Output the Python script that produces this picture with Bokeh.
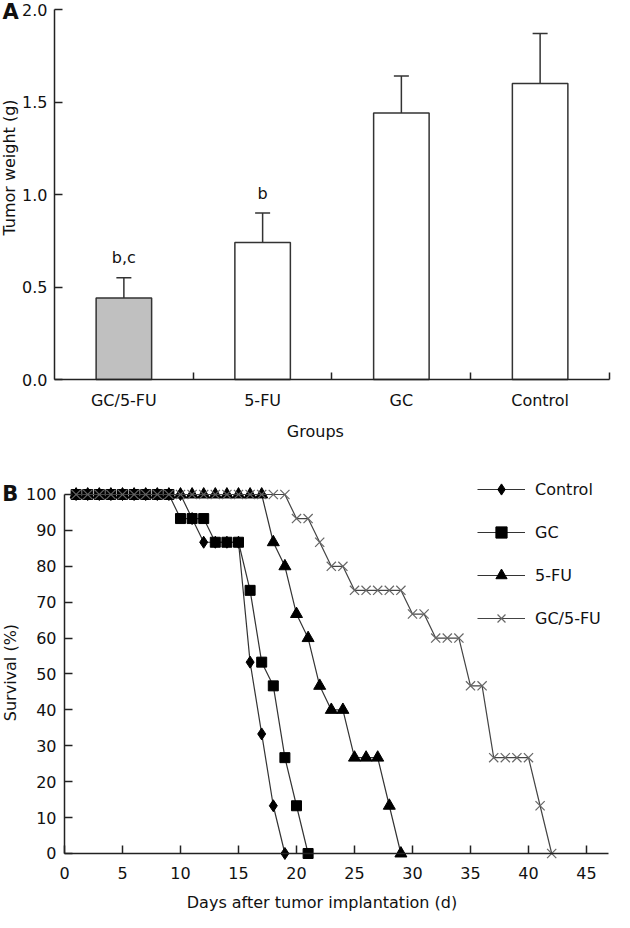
import math
from bokeh.plotting import figure
from bokeh.layouts import column
from bokeh.models import (ColumnDataSource, Whisker, TeeHead, LabelSet, Label,
                          FixedTicker, Range1d, Legend, LegendItem)
from bokeh.embed import file_html
from bokeh.resources import INLINE
from bokeh.core.properties import value

FONT = "DejaVu Sans"

# ---------------- Panel A data ----------------
groups = ["GC/5-FU", "5-FU", "GC", "Control"]
weights = [0.44, 0.74, 1.44, 1.60]
weight_errs = [0.11, 0.16, 0.20, 0.27]
sig_labels = ["b,c", "b", "", ""]
bar_colors = ["#c0c0c0", "#ffffff", "#ffffff", "#ffffff"]
weight_ticks = [0.0, 0.5, 1.0, 1.5, 2.0]
weight_tick_labels = ["0.0", "0.5", "1.0", "1.5", "2.0"]

# ---------------- Panel B data ----------------
days_control = [1, 2, 3, 4, 5, 6, 7, 8, 9, 10, 11, 12, 13, 14, 15, 16, 17, 18, 19]
surv_control = [100, 100, 100, 100, 100, 100, 100, 100, 100, 100, 93.3, 86.7, 86.7, 86.7, 86.7,
                53.3, 33.3, 13.3, 0]
days_gc = [1, 2, 3, 4, 5, 6, 7, 8, 9, 10, 11, 12, 13, 14, 15, 16, 17, 18, 19, 20, 21]
surv_gc = [100, 100, 100, 100, 100, 100, 100, 100, 100, 93.3, 93.3, 93.3, 86.7, 86.7, 86.7,
           73.3, 53.3, 46.7, 26.7, 13.3, 0]
days_5fu = [1, 2, 3, 4, 5, 6, 7, 8, 9, 10, 11, 12, 13, 14, 15, 16, 17, 18, 19, 20, 21, 22, 23,
            24, 25, 26, 27, 28, 29]
surv_5fu = [100, 100, 100, 100, 100, 100, 100, 100, 100, 100, 100, 100, 100, 100, 100, 100, 100,
            86.7, 80, 66.7, 60, 46.7, 40, 40, 26.7, 26.7, 26.7, 13.3, 0]
days_combo = [1, 2, 3, 4, 5, 6, 7, 8, 9, 10, 11, 12, 13, 14, 15, 16, 17, 18, 19, 20, 21, 22, 23,
              24, 25, 26, 27, 28, 29, 30, 31, 32, 33, 34, 35, 36, 37, 38, 39, 40, 41, 42]
surv_combo = [100, 100, 100, 100, 100, 100, 100, 100, 100, 100, 100, 100, 100, 100, 100, 100, 100,
              100, 100, 93.3, 93.3, 86.7, 80, 80, 73.3, 73.3, 73.3, 73.3, 73.3, 66.7, 66.7, 60, 60,
              60, 46.7, 46.7, 26.7, 26.7, 26.7, 26.7, 13.3, 0]
day_ticks = [0, 5, 10, 15, 20, 25, 30, 35, 40, 45]
surv_ticks = [0, 10, 20, 30, 40, 50, 60, 70, 80, 90, 100]

AX = "#222222"
TXT = "#111111"


def style_axis(ax, size="16px"):
    ax.axis_line_color = AX
    ax.axis_line_width = 1.5
    ax.major_tick_line_color = AX
    ax.major_tick_line_width = 1.5
    ax.minor_tick_line_color = AX
    ax.minor_tick_line_width = 1.5
    ax.major_label_text_font = FONT
    ax.major_label_text_font_size = size
    ax.major_label_text_color = TXT
    ax.minor_tick_in = 0
    ax.minor_tick_out = 0
    ax.major_tick_out = 0


def new_fig(w, h, xr, yr):
    p = figure(width=w, height=h, x_range=Range1d(*xr), y_range=Range1d(*yr),
               output_backend="svg", toolbar_location=None,
               min_border_left=0, min_border_right=0, min_border_top=0, min_border_bottom=0)
    p.grid.visible = False
    p.outline_line_color = None
    return p


# ================= Panel A =================
xc = [i + 0.5 for i in range(len(groups))]
src = ColumnDataSource(dict(
    xc=xc, w=weights,
    wtop=[w + e for w, e in zip(weights, weight_errs)],
    color=bar_colors, sig=sig_labels))

pa = new_fig(614, 470, (-0.38919, 4.03604), (-0.49189, 2.04865))

pa.vbar(x="xc", top="w", bottom=0, width=0.4, fill_color="color", line_color="#333333",
        line_width=1.5, source=src)
pa.add_layout(Whisker(base="xc", lower="w", upper="wtop", source=src, line_color="#333333",
                      line_width=1.5, lower_head=None,
                      upper_head=TeeHead(size=15, line_color="#333333", line_width=1.5)))
pa.add_layout(LabelSet(x="xc", y="wtop", text="sig", source=src, y_offset=20,
                       text_align="center", text_baseline="middle",
                       text_font=value(FONT), text_font_size=value("16px"),
                       text_color=TXT))

ya = pa.yaxis[0]
style_axis(ya)
ya.fixed_location = 0
ya.bounds = (0, 2.0)
ya.ticker = FixedTicker(ticks=weight_ticks)
ya.major_label_overrides = {t: l for t, l in zip(weight_ticks, weight_tick_labels)}
ya.major_tick_in = 8
ya.major_label_standoff = 7

xa = pa.xaxis[0]
style_axis(xa)
xa.fixed_location = 0
xa.bounds = (0, len(groups))
xa.ticker = FixedTicker(ticks=xc, minor_ticks=[1, 2, 3, 4])
xa.major_label_overrides = {x: g for x, g in zip(xc, groups)}
xa.major_tick_in = 0
xa.minor_tick_in = 7
xa.major_label_standoff = 11

pa.add_layout(Label(x=-0.3243, y=1.146, text="Tumor weight (g)", angle=math.pi / 2,
                    text_align="center", text_baseline="middle", text_font=FONT,
                    text_font_size="16px", text_color=TXT))
pa.add_layout(Label(x=1.88, y=-0.281, text="Groups", text_align="center",
                    text_baseline="middle", text_font=FONT, text_font_size="16px",
                    text_color=TXT))
pa.add_layout(Label(x=-0.375, y=1.984, text="A", text_align="left", text_baseline="middle",
                    text_font=FONT, text_font_size="21px", text_font_style="bold",
                    text_color=TXT))

# ================= Panel B =================
pb = new_fig(614, 442, (-5.5172, 47.414), (-16.435, 106.685))

series = [
    ("Control", days_control, surv_control, "diamond", 12, "#000000", "#333333"),
    ("GC", days_gc, surv_gc, "square", 10, "#000000", "#333333"),
    ("5-FU", days_5fu, surv_5fu, "triangle", 12, "#000000", "#333333"),
    ("GC/5-FU", days_combo, surv_combo, "x", 13, "#666666", "#444444"),
]
items = []
for name, dx, sy, mk, sz, mcol, lcol in series:
    s = ColumnDataSource(dict(d=dx, s=sy))
    lr = pb.line("d", "s", source=s, line_color=lcol, line_width=1.2)
    if mk == "x":
        mr = pb.scatter("d", "s", source=s, marker=mk, size=sz, line_color=mcol, line_width=1.2)
    else:
        mr = pb.scatter("d", "s", source=s, marker=mk, size=sz, fill_color=mcol,
                        line_color=mcol)
    items.append(LegendItem(label=name, renderers=[lr, mr]))

legend = Legend(items=items, location=(477, 280), padding=0, margin=0,
                border_line_color=None, background_fill_alpha=0,
                glyph_width=48, glyph_height=28, label_height=28, spacing=15,
                label_standoff=10, label_text_font=FONT, label_text_font_size="16px",
                label_text_color=TXT)
pb.add_layout(legend)

yb = pb.yaxis[0]
style_axis(yb)
yb.fixed_location = 0
yb.bounds = (0, 100)
yb.ticker = FixedTicker(ticks=surv_ticks)
yb.major_tick_in = 8
yb.major_label_standoff = 8

xb = pb.xaxis[0]
style_axis(xb)
xb.fixed_location = 0
xb.bounds = (0, 46.9)
xb.ticker = FixedTicker(ticks=day_ticks)
xb.major_tick_in = 8
xb.major_label_standoff = 14

pb.add_layout(Label(x=-4.66, y=50.4, text="Survival (%)", angle=math.pi / 2,
                    text_align="center", text_baseline="middle", text_font=FONT,
                    text_font_size="16px", text_color=TXT))
pb.add_layout(Label(x=22.2, y=-13.65, text="Days after tumor implantation (d)",
                    text_align="center", text_baseline="middle", text_font=FONT,
                    text_font_size="16px", text_color=TXT))
pb.add_layout(Label(x=-5.36, y=100, text="B", text_align="left", text_baseline="middle",
                    text_font=FONT, text_font_size="21px", text_font_style="bold",
                    text_color=TXT))

layout = column(pa, pb)
open("out.html", "w").write(file_html(layout, INLINE))
